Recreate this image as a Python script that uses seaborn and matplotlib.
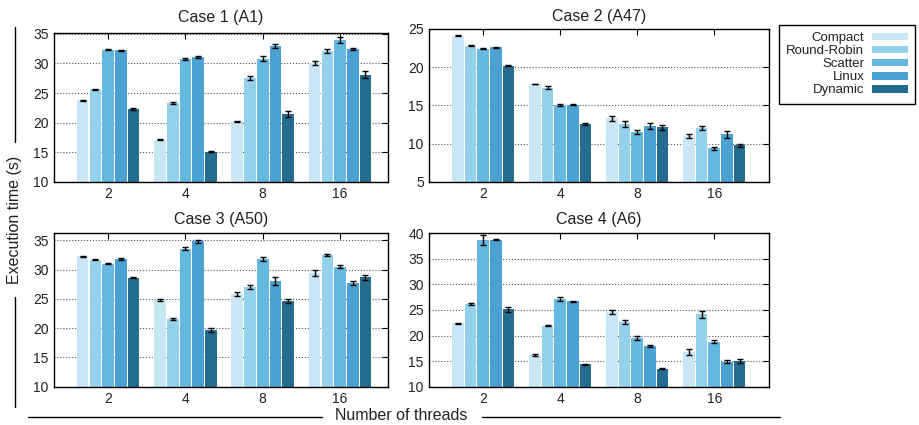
import numpy as np
import pandas as pd
import seaborn as sns
import matplotlib
matplotlib.use('Agg')
import matplotlib.pyplot as plt
from matplotlib.lines import Line2D

threads = ['2', '4', '8', '16']
policies = ['Compact', 'Round-Robin', 'Scatter', 'Linux', 'Dynamic']
colors = ['#c9e6f5', '#93d1ed', '#65b8e0', '#4ba1d1', '#246c90']

# rows: threads, columns: policies
case1_time = [[23.8, 25.6, 32.3, 32.2, 22.3],
              [17.1, 23.3, 30.8, 31.1, 15.1],
              [20.2, 27.5, 30.8, 33.0, 21.4],
              [30.1, 32.1, 33.9, 32.5, 28.1]]
case1_err = [[0.1, 0.1, 0.1, 0.1, 0.1],
             [0.1, 0.15, 0.15, 0.1, 0.1],
             [0.15, 0.35, 0.45, 0.3, 0.5],
             [0.3, 0.4, 0.5, 0.2, 0.55]]

case2_time = [[24.1, 22.8, 22.4, 22.6, 20.2],
              [17.8, 17.3, 15.0, 15.1, 12.6],
              [13.3, 12.6, 11.5, 12.3, 12.1],
              [11.0, 12.0, 9.4, 11.2, 9.8]]
case2_err = [[0.05, 0.05, 0.05, 0.05, 0.05],
             [0.05, 0.2, 0.15, 0.1, 0.15],
             [0.3, 0.4, 0.25, 0.4, 0.35],
             [0.3, 0.25, 0.2, 0.45, 0.2]]

case3_time = [[32.3, 31.7, 31.0, 31.8, 28.6],
              [24.8, 21.6, 33.6, 34.8, 19.7],
              [25.8, 27.0, 31.8, 28.1, 24.6],
              [29.4, 32.5, 30.5, 27.7, 28.7]]
case3_err = [[0.1, 0.05, 0.1, 0.1, 0.05],
             [0.1, 0.15, 0.25, 0.3, 0.35],
             [0.35, 0.35, 0.35, 0.7, 0.35],
             [0.55, 0.2, 0.3, 0.3, 0.4]]

case4_time = [[22.4, 26.2, 38.7, 38.7, 25.1],
              [16.2, 21.9, 27.2, 26.7, 14.4],
              [24.6, 22.7, 19.5, 18.0, 13.5],
              [16.8, 24.2, 18.8, 14.9, 15.0]]
case4_err = [[0.1, 0.15, 1.0, 0.1, 0.4],
             [0.1, 0.1, 0.4, 0.1, 0.1],
             [0.4, 0.35, 0.4, 0.2, 0.1],
             [0.6, 0.7, 0.3, 0.3, 0.45]]

sns.set_style('white')
plt.rcParams['font.family'] = ['Liberation Sans', 'DejaVu Sans']
plt.rcParams['text.color'] = '#222222'
plt.rcParams['xtick.labelcolor'] = '#222222'
plt.rcParams['ytick.labelcolor'] = '#222222'


def draw_case(ax, times, errs, title, ylim, yticks, xlim, pad):
    rows = [(t, p, times[i][j]) for i, t in enumerate(threads) for j, p in enumerate(policies)]
    df = pd.DataFrame(rows, columns=['threads', 'policy', 'time'])
    sns.barplot(data=df, x='threads', y='time', hue='policy', order=threads,
                hue_order=policies, palette=colors, saturation=1, width=0.82,
                gap=0.08, errorbar=None, linewidth=0, legend=False, ax=ax, zorder=2)
    bar_groups = list(ax.containers)
    for j, bars in enumerate(bar_groups):
        xs = [b.get_x() + b.get_width() / 2 for b in bars]
        ys = [b.get_height() for b in bars]
        ax.errorbar(xs, ys, yerr=[errs[i][j] for i in range(len(threads))], fmt='none',
                    ecolor='black', elinewidth=1, capsize=2.5, capthick=1, zorder=3)
    ax.set_xlim(*xlim)
    ax.set_ylim(*ylim)
    ax.set_yticks(yticks)
    ax.set_xlabel('')
    ax.set_ylabel('')
    ax.set_title(title, fontsize=11.5, pad=pad)
    ax.yaxis.grid(True, linestyle=':', color='#555555', linewidth=0.8)
    ax.set_axisbelow(True)
    ax.tick_params(direction='in', top=True, right=True, length=4, width=0.8,
                   labelsize=10, pad=4, color='black')
    for s in ax.spines.values():
        s.set_color('black')
        s.set_linewidth(1)


fig = plt.figure(figsize=(9.2, 4.25), dpi=100)
ax1 = fig.add_axes([0.059, 0.5725, 0.3627, 0.3491])
ax2 = fig.add_axes([0.4666, 0.5725, 0.3692, 0.3593])
ax3 = fig.add_axes([0.059, 0.0901, 0.3627, 0.361])
ax4 = fig.add_axes([0.4666, 0.0901, 0.3692, 0.361])

draw_case(ax1, case1_time, case1_err, 'Case 1 (A1)', (10, 35.1), np.arange(10, 36, 5), (-0.695, 3.62), 8)
draw_case(ax2, case2_time, case2_err, 'Case 2 (A47)', (5, 25), np.arange(5, 26, 5), (-0.70, 3.71), 6)
draw_case(ax3, case3_time, case3_err, 'Case 3 (A50)', (10, 36.2), np.arange(10, 36, 5), (-0.695, 3.62), 7)
draw_case(ax4, case4_time, case4_err, 'Case 4 (A6)', (10, 40), np.arange(10, 41, 5), (-0.70, 3.71), 7)

handles = [plt.Rectangle((0, 0), 1, 1, facecolor=c, edgecolor='none') for c in colors]
leg = fig.legend(handles, policies, loc='upper right', bbox_to_anchor=(915 / 920, 1 - 25 / 425),
                 markerfirst=False, fontsize=9.5, frameon=True, fancybox=False,
                 edgecolor='black', framealpha=1, handlelength=2.7, handleheight=0.5,
                 handletextpad=0.6, labelspacing=0.08, borderpad=0.55, borderaxespad=0)
leg.get_frame().set_linewidth(1)

# figure-level axis labels with gnuplot-style rules
fig.text(15 / 920, 1 - 220 / 425, 'Execution time (s)', rotation=90, ha='center',
         va='center', fontsize=11.5)
fig.add_artist(Line2D([15 / 920, 15 / 920], [1 - 27 / 425, 1 - 142 / 425], color='black', lw=1))
fig.add_artist(Line2D([15 / 920, 15 / 920], [1 - 297 / 425, 1 - 407 / 425], color='black', lw=1))
fig.text(401 / 920, 1 - 416 / 425, 'Number of threads', ha='center', va='center', fontsize=11.5)
fig.add_artist(Line2D([28 / 920, 322 / 920], [1 - 417 / 425, 1 - 417 / 425], color='black', lw=1))
fig.add_artist(Line2D([482 / 920, 780 / 920], [1 - 417 / 425, 1 - 417 / 425], color='black', lw=1))

fig.savefig('out.png', dpi=100)
